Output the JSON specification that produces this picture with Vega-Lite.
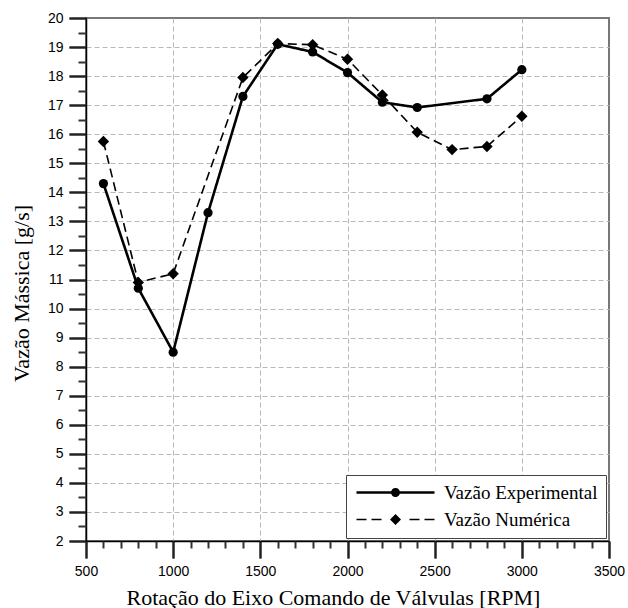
{
  "$schema": "https://vega.github.io/schema/vega-lite/v6.json",
  "width": 523,
  "height": 523,
  "autosize": "none",
  "padding": {"left": 86, "top": 18, "right": 19, "bottom": 67},
  "background": "white",
  "config": {
    "view": {"stroke": "#777", "strokeWidth": 2},
    "axis": {
      "domainColor": "black",
      "domainWidth": 1.5,
      "labelFont": "Liberation Sans",
      "labelFontSize": 14,
      "labelColor": "black",
      "titleFont": "Liberation Serif",
      "titleFontSize": 22,
      "titleFontWeight": "normal",
      "titleColor": "black",
      "gridColor": "#b8b8b8",
      "gridDash": [5, 3],
      "gridWidth": 1
    },
    "legend": {
      "orient": "bottom-right",
      "offset": 3,
      "strokeColor": "#444",
      "strokeWidth": 1,
      "fillColor": "white",
      "padding": 8,
      "labelFont": "Liberation Serif",
      "labelFontSize": 19,
      "labelColor": "black",
      "symbolSize": 100,
      "symbolOffset": 32,
      "labelOffset": 39,
      "rowPadding": 7,
      "symbolFillColor": "black",
      "symbolStrokeColor": "black"
    }
  },
  "data": {
    "values": [
      {"rpm": 600, "vazao": 14.3, "serie": "Vazão Experimental"},
      {"rpm": 800, "vazao": 10.7, "serie": "Vazão Experimental"},
      {"rpm": 1000, "vazao": 8.5, "serie": "Vazão Experimental"},
      {"rpm": 1200, "vazao": 13.3, "serie": "Vazão Experimental"},
      {"rpm": 1400, "vazao": 17.3, "serie": "Vazão Experimental"},
      {"rpm": 1600, "vazao": 19.1, "serie": "Vazão Experimental"},
      {"rpm": 1800, "vazao": 18.83, "serie": "Vazão Experimental"},
      {"rpm": 2000, "vazao": 18.12, "serie": "Vazão Experimental"},
      {"rpm": 2200, "vazao": 17.1, "serie": "Vazão Experimental"},
      {"rpm": 2400, "vazao": 16.92, "serie": "Vazão Experimental"},
      {"rpm": 2800, "vazao": 17.22, "serie": "Vazão Experimental"},
      {"rpm": 3000, "vazao": 18.22, "serie": "Vazão Experimental"},
      {"rpm": 600, "vazao": 15.75, "serie": "Vazão Numérica"},
      {"rpm": 800, "vazao": 10.9, "serie": "Vazão Numérica"},
      {"rpm": 1000, "vazao": 11.2, "serie": "Vazão Numérica"},
      {"rpm": 1400, "vazao": 17.95, "serie": "Vazão Numérica"},
      {"rpm": 1600, "vazao": 19.12, "serie": "Vazão Numérica"},
      {"rpm": 1800, "vazao": 19.08, "serie": "Vazão Numérica"},
      {"rpm": 2000, "vazao": 18.58, "serie": "Vazão Numérica"},
      {"rpm": 2200, "vazao": 17.35, "serie": "Vazão Numérica"},
      {"rpm": 2400, "vazao": 16.07, "serie": "Vazão Numérica"},
      {"rpm": 2600, "vazao": 15.47, "serie": "Vazão Numérica"},
      {"rpm": 2800, "vazao": 15.58, "serie": "Vazão Numérica"},
      {"rpm": 3000, "vazao": 16.62, "serie": "Vazão Numérica"}
    ]
  },
  "layer": [
    {
      "mark": {"type": "line", "color": "black"},
      "encoding": {
        "x": {
          "field": "rpm", "type": "quantitative",
          "scale": {"domain": [500, 3500], "nice": false, "zero": false},
          "axis": {
            "orient": "bottom",
            "title": "Rotação do Eixo Comando de Válvulas [RPM]",
            "values": [500, 1000, 1500, 2000, 2500, 3000, 3500],
            "format": "d",
            "ticks": true,
            "tickSize": 17,
            "tickColor": "#222",
            "tickWidth": 2,
            "labelPadding": 6,
            "labelFlush": false,
            "labelOverlap": false,
            "grid": false,
            "titleX": 247,
            "titleY": 63,
            "titleAlign": "center",
            "titleBaseline": "alphabetic"
          }
        },
        "y": {
          "field": "vazao", "type": "quantitative",
          "scale": {"domain": [2, 20], "nice": false, "zero": false},
          "axis": {
            "orient": "left",
            "title": "Vazão Mássica [g/s]",
            "values": [2,3,4,5,6,7,8,9,10,11,12,13,14,15,16,17,18,19,20],
            "format": "d",
            "ticks": true,
            "tickSize": 17,
            "tickColor": "#222",
            "tickWidth": 2,
            "labelPadding": 6,
            "labelFlush": false,
            "labelOverlap": false,
            "grid": false,
            "titleX": -58,
            "titleY": 275,
            "titleAlign": "center",
            "titleBaseline": "alphabetic",
            "titleAngle": 270
          }
        },
        "detail": {"field": "serie"},
        "strokeDash": {
          "field": "serie", "type": "nominal",
          "scale": {"domain": ["Vazão Experimental", "Vazão Numérica"], "range": [[1, 0], [9, 5]]},
          "legend": {"title": null}
        },
        "strokeWidth": {
          "field": "serie", "type": "nominal",
          "scale": {"domain": ["Vazão Experimental", "Vazão Numérica"], "range": [2.6, 1.6]},
          "legend": {"title": null}
        }
      }
    },
    {
      "transform": [{"filter": "datum.serie === 'Vazão Experimental'"}],
      "mark": {"type": "point", "shape": "circle", "filled": true, "color": "black", "opacity": 1, "size": 85},
      "encoding": {
        "x": {
          "field": "rpm", "type": "quantitative",
          "axis": {
            "orient": "bottom",
            "title": null,
            "values": [500, 1000, 1500, 2000, 2500, 3000, 3500],
            "ticks": true,
            "tickSize": 17,
            "tickColor": "#222",
            "tickWidth": 2,
            "labels": false,
            "grid": false,
            "domain": false
          }
        },
        "y": {
          "field": "vazao", "type": "quantitative",
          "axis": {
            "orient": "left",
            "title": null,
            "values": [2,3,4,5,6,7,8,9,10,11,12,13,14,15,16,17,18,19,20],
            "ticks": true,
            "tickSize": 17,
            "tickColor": "#222",
            "tickWidth": 2,
            "labels": false,
            "grid": false,
            "domain": false
          }
        }
      }
    },
    {
      "transform": [{"filter": "datum.serie === 'Vazão Numérica'"}],
      "mark": {"type": "point", "shape": "diamond", "filled": true, "color": "black", "opacity": 1, "size": 130},
      "encoding": {
        "x": {
          "field": "rpm", "type": "quantitative",
          "axis": {
            "orient": "bottom",
            "title": null,
            "values": [1000, 1500, 2000, 2500, 3000],
            "ticks": false,
            "labels": false,
            "domain": false,
            "grid": true,
            "zindex": 0
          }
        },
        "y": {
          "field": "vazao", "type": "quantitative",
          "axis": {
            "orient": "left",
            "title": null,
            "values": [3,4,5,6,7,8,9,10,11,12,13,14,15,16,17,18,19],
            "ticks": false,
            "labels": false,
            "domain": false,
            "grid": true,
            "zindex": 0
          }
        }
      }
    },
    {
      "transform": [{"filter": "datum.rpm < 0"}],
      "mark": {"type": "point", "filled": true, "color": "black", "opacity": 1},
      "encoding": {
        "x": {
          "field": "rpm", "type": "quantitative",
          "axis": {
            "orient": "bottom",
            "title": null,
            "values": [600,700,800,900,1100,1200,1300,1400,1600,1700,1800,1900,2100,2200,2300,2400,2600,2700,2800,2900,3100,3200,3300,3400],
            "ticks": true,
            "tickSize": 7,
            "tickColor": "#333",
            "tickWidth": 2,
            "labels": false,
            "grid": false,
            "domain": false
          }
        },
        "y": {
          "field": "vazao", "type": "quantitative",
          "axis": {
            "orient": "left",
            "title": null,
            "values": [2.5,3.5,4.5,5.5,6.5,7.5,8.5,9.5,10.5,11.5,12.5,13.5,14.5,15.5,16.5,17.5,18.5,19.5],
            "ticks": true,
            "tickSize": 8,
            "tickColor": "#333",
            "tickWidth": 2,
            "labels": false,
            "grid": false,
            "domain": false
          }
        },
        "shape": {
          "field": "serie", "type": "nominal",
          "scale": {"domain": ["Vazão Experimental", "Vazão Numérica"], "range": ["M-7.8,-0.26H7.8V0.26H-7.8ZM0.9,0A0.9,0.9,0,1,1,-0.9,0A0.9,0.9,0,1,1,0.9,0Z", "M-7.8,-0.16H-5.8V0.16H-7.8ZM-4.8,-0.16H-2.8V0.16H-4.8ZM2.8,-0.16H4.8V0.16H2.8ZM5.8,-0.16H7.8V0.16H5.8ZM0,-1.1L1.1,0L0,1.1L-1.1,0Z"]},
          "legend": {"title": null}
        }
      }
    }
  ],
  "resolve": {"axis": {"x": "independent", "y": "independent"}}
}
